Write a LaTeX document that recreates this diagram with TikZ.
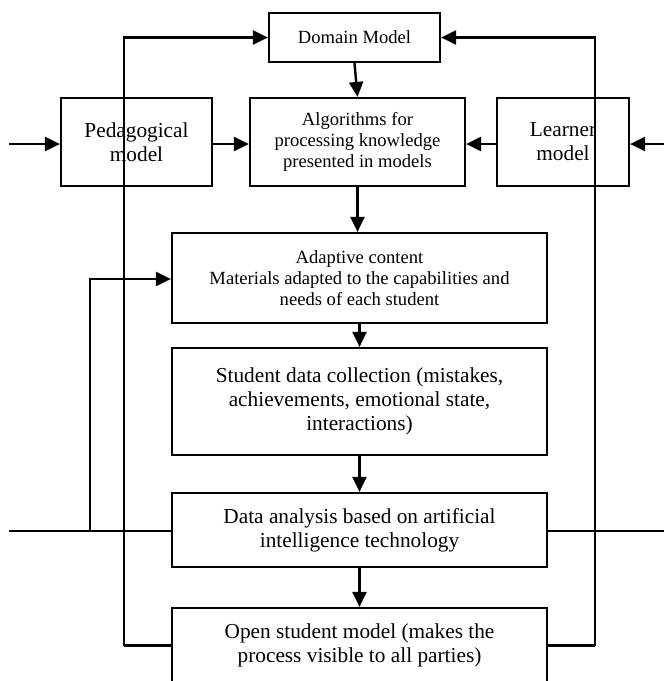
\documentclass[tikz,border=0pt]{standalone}
\usepackage{fontspec}
\setmainfont{Liberation Serif}
\usetikzlibrary{arrows.meta}
\begin{document}
\begin{tikzpicture}[x=1pt,y=-1pt,
  box/.style={draw=black,line width=2.2pt,rectangle,inner sep=0pt,align=center},
  big/.style={font=\fontsize{21.3}{24}\selectfont},
  small/.style={font=\fontsize{18.6}{21}\selectfont},
  conn/.style={line width=2.4pt},
  arr/.style={conn,-{Triangle[length=15pt,width=14pt]}},
  thin/.style={line width=1.5pt}]
\useasboundingbox[fill=white] (0,0) rectangle (664,681);
\node[box,small,minimum width=171pt,minimum height=49pt] (dom) at (354.5,37.5) {Domain Model};
\node[box,big,minimum width=151pt,minimum height=88pt] (ped) at (136.5,142) {Pedagogical\\model};
\node[box,small,minimum width=215pt,minimum height=88pt] (alg) at (357.5,142) {Algorithms for\\processing knowledge\\presented in models};
\node[box,big,minimum width=132pt,minimum height=88pt] (lrn) at (563,142) {Learner\\model};
\node[box,small,minimum width=375pt,minimum height=90pt] (ada) at (359.5,278) {Adaptive content\\Materials adapted to the capabilities and\\needs of each student};
\node[box,big,minimum width=375pt,minimum height=107pt] (sdc) at (359.5,401.5) {Student data collection (mistakes,\\achievements, emotional state,\\interactions)};
\node[box,big,minimum width=375pt,minimum height=74pt] (dat) at (359.5,530) {Data analysis based on artificial\\intelligence technology};
\node[box,big,minimum width=375pt,minimum height=75pt] (opn) at (359.5,645.5) {Open student model (makes the\\process visible to all parties)};
\coordinate (inL) at (9,144);
\coordinate (inR) at (664,144);
\coordinate (L1) at (124,645.5);
\coordinate (L2) at (124,37.5);
\coordinate (R1) at (595,645.5);
\coordinate (R2) at (595,37.5);
\coordinate (tL) at (9,531);
\coordinate (tR) at (664,531);
\coordinate (B1) at (90,531);
\coordinate (B2) at (90,279);
\draw[arr] (inL) -- (inL -| ped.west);
\draw[arr] (ped.east |- inL) -- (alg.west |- inL);
\draw[arr] (lrn.west |- inL) -- (alg.east |- inL);
\draw[arr] (inR) -- (lrn.east |- inR);
\draw[arr] (dom.south) -- (alg.north);
\draw[arr] (alg.south) -- (alg.south |- ada.north);
\draw[arr] (ada.south) -- (sdc.north);
\draw[arr] (sdc.south) -- (dat.north);
\draw[arr] (dat.south) -- (opn.north);
\draw[conn] (opn.west) -- (L1);
\draw[arr] (L1) -- (L2) -- (dom.west);
\draw[conn] (opn.east) -- (R1);
\draw[arr] (R1) -- (R2) -- (dom.east);
\draw[thin] (tL) -- (tL -| dat.west);
\draw[thin] (tR -| dat.east) -- (tR);
\draw[arr] (B1) -- (B2) -- (B2 -| ada.west);
\end{tikzpicture}
\end{document}
